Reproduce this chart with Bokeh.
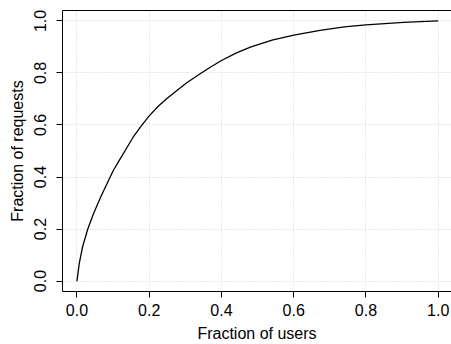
from bokeh.plotting import figure
from bokeh.models import Range1d, FixedTicker, LinearAxis, NumeralTickFormatter
from bokeh.embed import file_html
from bokeh.resources import INLINE

# Data (cumulative fraction of requests vs fraction of users)
users_frac = [0.0, 0.0064, 0.0156, 0.030, 0.046, 0.066, 0.092, 0.101, 0.118,
              0.134, 0.155, 0.177, 0.2, 0.225, 0.249, 0.275, 0.304, 0.341,
              0.369, 0.4, 0.44, 0.48, 0.54, 0.6, 0.673, 0.74, 0.8, 0.904, 1.0]
requests_frac = [0.0, 0.068, 0.132, 0.2, 0.26, 0.324, 0.4, 0.426, 0.466,
                 0.503, 0.552, 0.595, 0.635, 0.672, 0.702, 0.731, 0.762, 0.797,
                 0.822, 0.848, 0.876, 0.899, 0.926, 0.945, 0.964, 0.977, 0.985,
                 0.994, 1.0]
tick_values = [0.0, 0.2, 0.4, 0.6, 0.8, 1.0]
x_title = "Fraction of users"
y_title = "Fraction of requests"

FONT = "Liberation Sans"

p = figure(width=451, height=344, output_backend="svg", toolbar_location=None,
           x_range=Range1d(-0.04, 1.0367), y_range=Range1d(-0.04, 1.04),
           min_border_left=62, min_border_right=0, min_border_top=10,
           min_border_bottom=53)
p.outline_line_color = None
p.background_fill_color = "white"
p.border_fill_color = "white"

p.line(users_frac, requests_frac, line_color="black", line_width=1.3,
       line_join="round")

for ax in (p.xaxis[0], p.yaxis[0]):
    ax.ticker = FixedTicker(ticks=tick_values)
    ax.formatter = NumeralTickFormatter(format="0.0")
    ax.minor_tick_line_color = None
    ax.major_tick_in = 0
    ax.major_tick_out = 6
    ax.major_tick_line_color = "black"
    ax.axis_line_color = "black"
    ax.major_label_text_font = FONT
    ax.major_label_text_font_size = "16px"
    ax.major_label_text_color = "black"
    ax.axis_label_text_font = FONT
    ax.axis_label_text_font_size = "16px"
    ax.axis_label_text_font_style = "normal"
    ax.axis_label_text_color = "black"

p.xaxis.axis_label = x_title
p.yaxis.axis_label = y_title
p.yaxis.major_label_orientation = "vertical"
p.xaxis.major_label_standoff = 6
p.yaxis.major_label_standoff = 10
p.xaxis.axis_label_standoff = 6
p.yaxis.axis_label_standoff = 6

top = LinearAxis(ticker=FixedTicker(ticks=[]), major_tick_out=0, major_tick_in=0,
                 minor_tick_line_color=None, major_label_text_font_size="0px",
                 axis_line_color="black", major_label_standoff=0)
p.add_layout(top, "above")

for g in (p.xgrid[0], p.ygrid[0]):
    g.ticker = FixedTicker(ticks=tick_values)
    g.grid_line_color = "#d3d3d3"
    g.grid_line_dash = "1 2"
    g.grid_line_width = 1

open("out.html", "w").write(file_html(p, INLINE))
